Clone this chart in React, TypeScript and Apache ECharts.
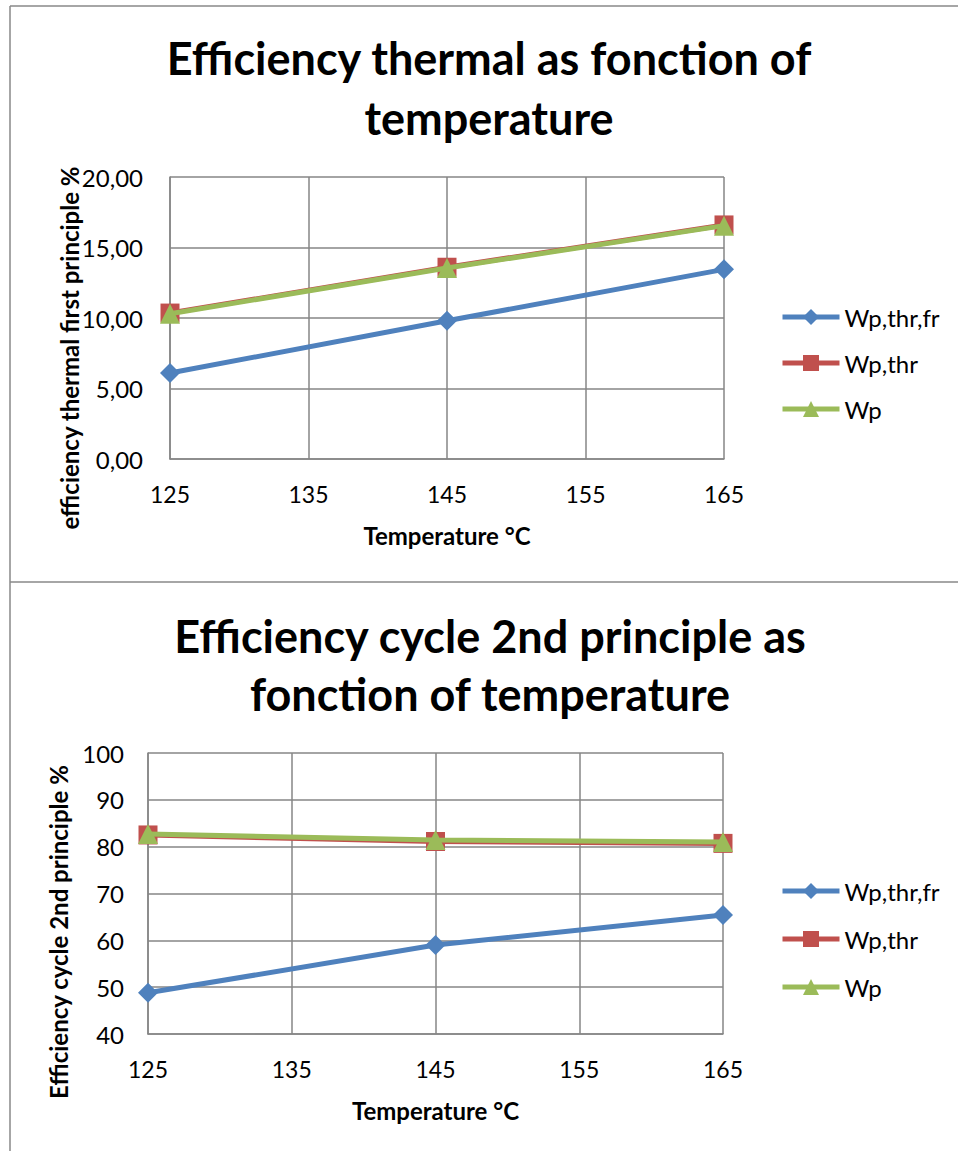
import React, { useEffect, useRef } from "react";
import * as echarts from "echarts";

const tickLabels = ["125", "135", "145", "155", "165"];
const temps = ["125", "145", "165"];
const seriesNames = ["Wp,thr,fr", "Wp,thr", "Wp"];

const thermalFr = [6.1, 9.8, 13.45];
const thermalThr = [10.35, 13.6, 16.6];
const thermalWp = [10.3, 13.55, 16.55];

const cycleFr = [48.8, 59.0, 65.4];
const cycleThr = [82.5, 81.1, 80.7];
const cycleWp = [82.7, 81.4, 81.0];

const colors = ["#4F81BD", "#C0504D", "#9BBB59"];
const symbols = ["diamond", "rect", "triangle"];
const symbolSizes = [20, 19, 20];

const FONT = "Lato";

function pairs(vals: number[]) {
  return temps.map((t, i) => [t, vals[i]]);
}

export default function App() {
  const ref = useRef<HTMLDivElement>(null);
  useEffect(() => {
    if (!ref.current) return;
    const chart = echarts.init(ref.current, null, { renderer: "svg" });
    const gridLine = { lineStyle: { color: "#868686", width: 1.5 } };
    const mkX = (gridIndex: number) => ({
      type: "category",
      gridIndex,
      data: tickLabels,
      boundaryGap: false,
      axisLine: gridLine,
      axisTick: { show: false },
      splitLine: { show: true, ...gridLine },
      axisLabel: { color: "#000", fontSize: 23, fontFamily: FONT, margin: 23 },
      name: "Temperature °C",
      nameLocation: "middle",
      nameGap: 64,
      nameTextStyle: { color: "#000", fontSize: 24, fontWeight: "bold", fontFamily: FONT },
    });
    const mkSeries = (gridIndex: number, data: number[][]) =>
      data.map((d, i) => ({
        type: "line",
        name: seriesNames[i],
        xAxisIndex: gridIndex,
        yAxisIndex: gridIndex,
        data: pairs(d as any),
        symbol: symbols[i],
        symbolSize: symbolSizes[i],
        color: colors[i],
        lineStyle: { color: colors[i], width: 5 },
        itemStyle: { color: colors[i] },
        z: 2 + i,
      }));
    const legendBase = {
      orient: "vertical",
      left: 775,
      itemWidth: 57,
      itemHeight: 20,
      data: seriesNames,
      lineStyle: { width: 5 },
      textStyle: { color: "#000", fontSize: 24, fontFamily: FONT, lineHeight: 20 },
      selectedMode: false,
    };
    chart.setOption({
      animation: false,
      backgroundColor: "#fff",
      grid: [
        { left: 170, top: 177, width: 554, height: 282 },
        { left: 148, top: 753, width: 575, height: 281 },
      ],
      xAxis: [mkX(0), mkX(1)],
      yAxis: [
        {
          type: "value",
          gridIndex: 0,
          min: 0,
          max: 20,
          interval: 5,
          axisLine: { show: true, ...gridLine },
          splitLine: { show: true, ...gridLine },
          axisTick: { show: false },
          axisLabel: {
            color: "#000",
            fontSize: 24,
            fontFamily: FONT,
            margin: 27,
            formatter: (v: number) => v.toFixed(2).replace(".", ","),
          },
        },
        {
          type: "value",
          gridIndex: 1,
          min: 40,
          max: 100,
          interval: 10,
          axisLine: { show: true, ...gridLine },
          splitLine: { show: true, ...gridLine },
          axisTick: { show: false },
          axisLabel: { color: "#000", fontSize: 24, fontFamily: FONT, margin: 24 },
        },
      ],
      legend: [
        { ...legendBase, top: 300, itemGap: 22 },
        { ...legendBase, top: 874, itemGap: 24 },
      ],
      series: [
        ...mkSeries(0, [thermalFr, thermalThr, thermalWp] as any),
        ...mkSeries(1, [cycleFr, cycleThr, cycleWp] as any),
      ],
      graphic: [
        { type: "line", shape: { x1: 10, y1: 6, x2: 958, y2: 6 }, style: { stroke: "#898989", lineWidth: 1.5 } },
        { type: "line", shape: { x1: 10, y1: 6, x2: 10, y2: 1151 }, style: { stroke: "#898989", lineWidth: 1.5 } },
        { type: "line", shape: { x1: 10, y1: 582, x2: 958, y2: 582 }, style: { stroke: "#898989", lineWidth: 1.5 } },
        {
          type: "text", x: 489, y: 58,
          style: { text: "Efficiency thermal as fonction of", fill: "#000", font: `bold 45px ${FONT}`, textAlign: "center", textVerticalAlign: "middle" },
        },
        {
          type: "text", x: 489, y: 118,
          style: { text: "temperature", fill: "#000", font: `bold 45px ${FONT}`, textAlign: "center", textVerticalAlign: "middle" },
        },
        {
          type: "text", x: 490, y: 636,
          style: { text: "Efficiency cycle 2nd principle as", fill: "#000", font: `bold 45px ${FONT}`, textAlign: "center", textVerticalAlign: "middle" },
        },
        {
          type: "text", x: 490, y: 694,
          style: { text: "fonction of temperature", fill: "#000", font: `bold 45px ${FONT}`, textAlign: "center", textVerticalAlign: "middle" },
        },
        {
          type: "text", x: 69, y: 348, rotation: Math.PI / 2,
          style: { text: "efficiency thermal first principle %", fill: "#000", font: `bold 24px ${FONT}`, textAlign: "center", textVerticalAlign: "middle" },
        },
        {
          type: "text", x: 58, y: 932, rotation: Math.PI / 2,
          style: { text: "Efficiency cycle 2nd principle %", fill: "#000", font: `bold 24px ${FONT}`, textAlign: "center", textVerticalAlign: "middle" },
        },
      ],
    });
    return () => chart.dispose();
  }, []);
  return (
    <div
      ref={ref}
      style={{ position: "absolute", left: 0, top: 0, width: 958, height: 1151 }}
    />
  );
}
